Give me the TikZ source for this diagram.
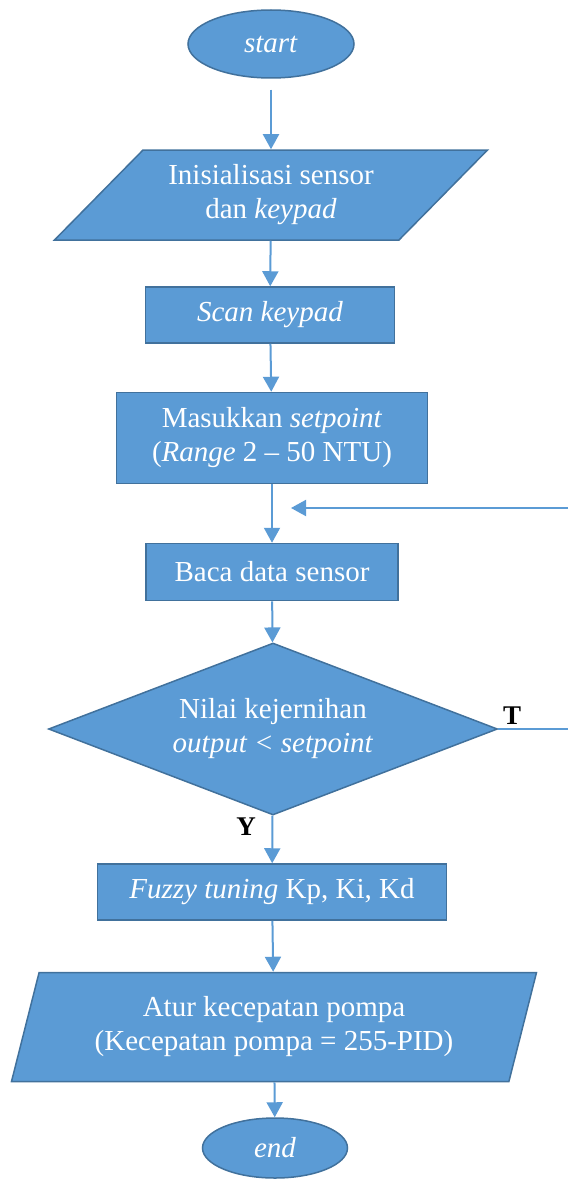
\documentclass[tikz,border=0pt]{standalone}
\usepackage{fontspec}
\setmainfont{Liberation Serif}
\usetikzlibrary{shapes.geometric, arrows.meta}
\definecolor{isian}{HTML}{5B9BD5}
\definecolor{garis}{HTML}{41719C}

\begin{document}
\begin{tikzpicture}[x=1pt, y=-1pt,
    blok/.style={draw=garis, line width=1.5pt, fill=isian, text=white,
      align=center, inner sep=0pt, font=\fontsize{29}{34}\selectfont},
    kotak/.style={blok, rectangle},
    oval/.style={blok, ellipse},
    jajar/.style={blok, trapezium, trapezium stretches body},
    belah/.style={blok, diamond, aspect=2.6},
    panah/.style={draw=isian, line width=2pt, -{Triangle[width=16pt,length=15pt]}},
    huruf/.style={font=\fontsize{27}{30}\selectfont\bfseries, text=black}]
      \useasboundingbox (0,0) rectangle (568,1180);

      % 1. mulai dan inisialisasi
      \node[oval, minimum width=166pt, minimum height=68pt] (start) at (271,44) {\textit{start}};
      \node[jajar, trapezium left angle=34.3, trapezium right angle=145.7,
        minimum width=433pt, minimum height=90pt] (init) at (271,195)
        {Inisialisasi sensor\\dan \textit{keypad}};

      % 2. keypad dan setpoint
      \node[kotak, minimum width=249pt, minimum height=56pt] (scan) at (270,315) {\textit{Scan keypad}};
      \node[kotak, minimum width=311pt, minimum height=91pt] (setp) at (272,438)
        {Masukkan \textit{setpoint}\\(\textit{Range} 2 -- 50 NTU)};

      % 3. baca sensor dan keputusan
      \node[kotak, minimum width=252pt, minimum height=57pt] (baca) at (272,572) {Baca data sensor};
      \node[belah, minimum width=449pt, minimum height=172pt] (cek) at (273,729)
        {Nilai kejernihan\\\textit{output < setpoint}};
      \node[huruf] (T) at (512,716) {T};
      \node[huruf] (Y) at (246,827) {Y};

      % 4. fuzzy, pompa, selesai
      \node[kotak, minimum width=349pt, minimum height=56pt] (fuzzy) at (272,892)
        {\textit{Fuzzy tuning} Kp, Ki, Kd};
      \node[jajar, trapezium left angle=65.4, trapezium right angle=114.6,
        minimum width=525pt, minimum height=109pt] (atur) at (274,1027)
        {Atur kecepatan pompa\\(Kecepatan pompa = 255-PID)};
      \node[oval, minimum width=145pt, minimum height=60pt] (end) at (275,1148) {\textit{end}};

      % 5. panah utama
      \draw[panah, shorten <=11pt] (start) -- (init);
      \draw[panah] (init) -- (scan);
      \draw[panah] (scan) -- (setp);
      \draw[panah] (setp) -- (baca);
      \draw[panah] (baca) -- (cek);
      \draw[panah] (cek) -- (fuzzy);
      \draw[panah] (fuzzy) -- (atur);
      \draw[panah] (atur) -- (end);

      % 6. jalur balik (T)
      \coordinate (kanan1) at (568,729);
      \coordinate (kanan2) at (568,508);
      \coordinate (balik) at (291,508);
      \draw[draw=isian, line width=1.5pt] (cek.east) -- (kanan1);
      \draw[panah] (kanan2) -- (balik);
    \end{tikzpicture}
\end{document}
